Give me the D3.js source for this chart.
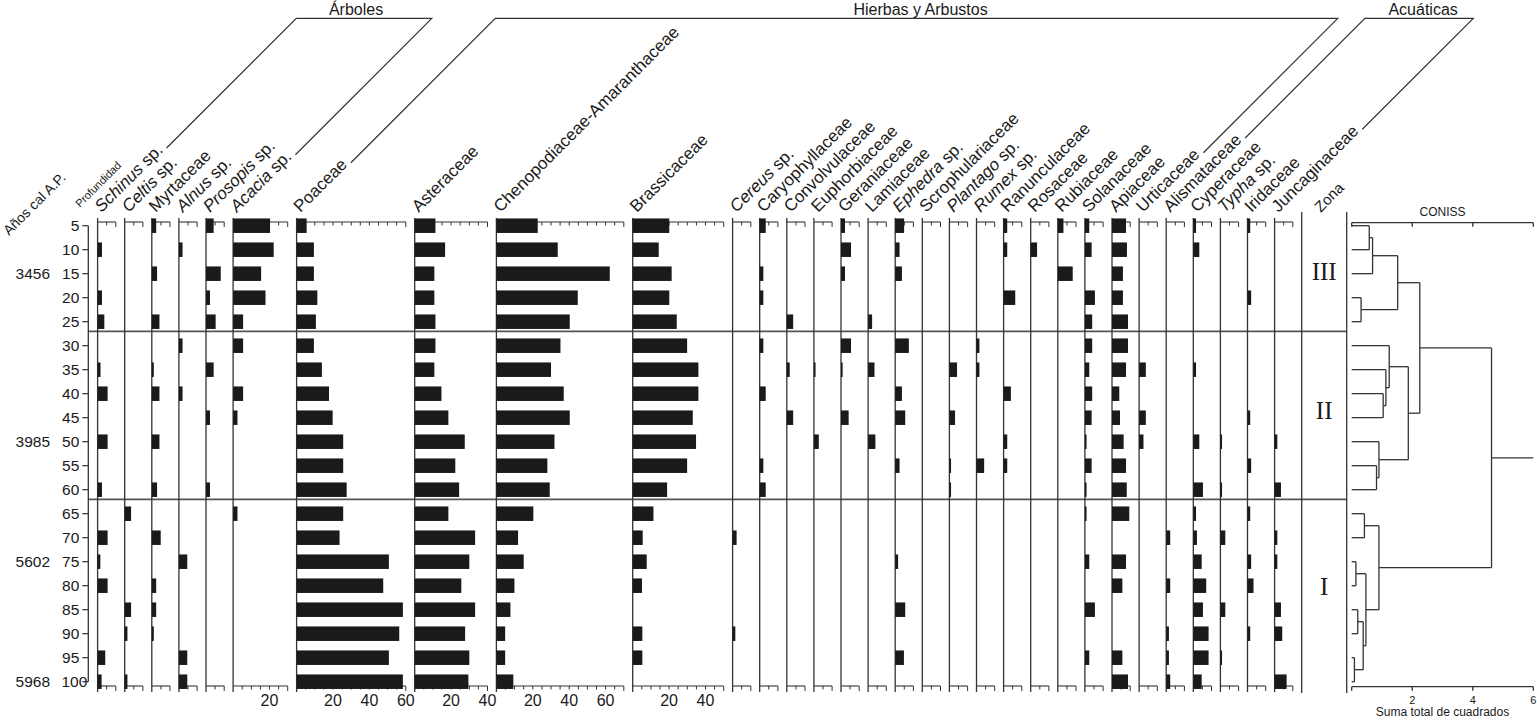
<!DOCTYPE html>
<html><head><meta charset="utf-8">
<script src="https://cdn.jsdelivr.net/npm/d3@7"></script>
<style>
body{margin:0;background:#fff}
svg{display:block}
text{font-family:"Liberation Sans",Arial,sans-serif;fill:#1a1a1a}
</style>
</head><body>
<svg id="c" width="1537" height="720"></svg>
<script>
// ---------- DATA ----------
const depths = [5,10,15,20,25,30,35,40,45,50,55,60,65,70,75,80,85,90,95,100];
const ageDepths = [15,50,75,100];
const ageLabels = ["3456","3985","5602","5968"];

const taxaNames = ["Schinus sp.","Celtis sp.","Myrtaceae","Alnus sp.","Prosopis sp.","Acacia sp.",
  "Poaceae","Asteraceae","Chenopodiaceae-Amaranthaceae","Brassicaceae",
  "Cereus sp.","Caryophyllaceae","Convolvulaceae","Euphorbiaceae","Geraniaceae","Lamiaceae",
  "Ephedra sp.","Scrophulariaceae","Plantago sp.","Rumex sp.","Ranunculaceae","Rosaceae",
  "Rubiaceae","Solanaceae","Apiaceae","Urticaceae",
  "Alismataceae","Cyperaceae","Typha sp.","Iridaceae","Juncaginaceae"];
const axisMax = [10,10,10,10,10,30,60,40,70,50,10,10,10,10,10,10,10,10,10,10,10,10,10,10,10,10,10,10,10,10,10];

const groupLabels = ["Árboles","Hierbas y Arbustos","Acuáticas"];
const groupFirst = [0,6,26];
const groupLast  = [5,25,30];

const schinus    = [0,2.4,0,2.4,3.7, 0,1.6,5.5,0,5.5, 0,2.4,0,5.5,1.5, 5.5,0,0,4.2,2.2];
const celtis     = [0,0,0,0,0, 0,0,0,0,0, 0,0,3.5,0,0, 0,3.5,1.5,0,1.5];
const myrtaceae  = [2.4,0,2.9,0,4.2, 0,1.1,4.2,0,4.2, 0,2.9,0,4.9,0, 2.4,2.4,1.1,0,0];
const alnus      = [0,2,0,0,0, 2,0,2,0,0, 0,0,0,0,4.6, 0,0,0,4.6,4.6];
const prosopis   = [4.2,0,8.1,2.2,5.3, 0,4.2,0,2.2,0, 0,2.2,0,0,0, 0,0,0,0,0];
const acacia     = [20.3,22.3,15.4,17.8,5.5, 5.5,0,5.5,2.4,0, 0,0,2.4,0,0, 0,0,0,0,0];
const poaceae    = [5.5,9.5,9.5,11.4,10.6, 9.5,13.9,17.8,19.8,25.6, 25.6,27.5,25.6,23.6,50.7, 47.6,58.4,56.4,50.7,58.4];
const asteraceae = [11.4,16.7,10.8,10.8,11.4, 11.4,10.8,14.7,18.5,27.5, 22.3,24.4,18.5,33.2,30, 25.6,33.2,27.7,30,29.5];
const chenoAmar  = [22.7,33.7,62.3,44.7,40.3, 35.2,30,37,40.3,31.9, 28,29.3,20.3,11.9,15, 9.9,7.7,4.8,4.8,9.3];
const brassica   = [20.1,14.3,21.4,20.1,24.2, 29.9,36.1,36.1,33,34.8, 29.9,18.9,11.4,5.5,7.7, 5.1,0,5.3,5.3,0];
const cereus     = [0,0,0,0,0, 0,0,0,0,0, 0,0,0,2.2,0, 0,0,1.5,0,0];
const caryophyl  = [3.3,0,2,2,0, 2,0,3.3,0,0, 2,3.3,0,0,0, 0,0,0,0,0];
const convolvul  = [0,0,0,0,3.5, 0,1.6,0,3.5,0, 0,0,0,0,0, 0,0,0,0,0];
const euphorbia  = [0,0,0,0,0, 0,0.9,0,0,2.7, 0,0,0,0,0, 0,0,0,0,0];
const geranium   = [2.2,5.5,2.2,0,0, 5.5,0.9,0,4.2,0, 0,0,0,0,0, 0,0,0,0,0];
const lamiaceae  = [0,0,0,0,2.2, 0,3.5,0,0,4, 0,0,0,0,0, 0,0,0,0,0];
const ephedra    = [4.9,2.4,3.7,0,0, 7.5,0,3.7,5.5,0, 2.4,0,0,0,1.6, 0,5.5,0,4.8,0];
const scrophul   = [0,0,0,0,0, 0,0,0,0,0, 0,0,0,0,0, 0,0,0,0,0];
const plantago   = [0,0,0,0,0, 0,4.2,0,3.1,0, 0.9,0.9,0,0,0, 0,0,0,0,0];
const rumex      = [0,0,0,0,0, 1.6,1.6,0,0,0, 4.2,0,0,0,0, 0,0,0,0,0];
const ranuncul   = [2,2,0,6.4,0, 0,0,4,0,2, 2,0,0,0,0, 0,0,0,0,0];
const rosaceae   = [0,3.5,0,0,0, 0,0,0,0,0, 0,0,0,0,0, 0,0,0,0,0];
const rubiaceae  = [3.1,0,8.2,0,0, 0,0,0,0,0, 0,0,0,0,0, 0,0,0,0,0];
const solanaceae = [2.4,3.7,0,5.5,4, 4,2.4,4,3.7,0.9, 3.7,0.9,0.9,0,2.4, 0,5.5,0,2.4,0];
const apiaceae   = [7.7,8.2,6,6,8.8, 8.8,7.7,4,4.4,6.4, 7.7,8.1,9.5,0,7.7, 5.7,0,0,5.7,8.8];
const urticaceae = [0,0,0,0,0, 0,3.7,0,3.7,2.4, 0,0,0,0,0, 0,0,0,0,0];
const alismatac  = [0,0,0,0,0, 0,0,0,0,0, 0,0,0,2.2,0, 2.2,0,1.5,1.5,2.2];
const cyperaceae = [1.5,3.3,0,0,0, 0,1.5,0,0,3.3, 0,5.3,1.5,2,4.6, 7.1,5.3,8.4,8.4,4.6];
const typha      = [0,0,0,0,0, 0,0,0,0,0.9, 0,0.9,0,2.7,0, 0,2.7,0,0.9,0];
const iridaceae  = [1.5,0,0,2,0, 0,0,0,1.5,0, 2,0,1.5,0,2, 3.3,0,1.5,0,0];
const juncagin   = [0,0,0,0,0, 0,0,0,0,1.5, 0,3.5,0,1.5,1.5, 0,3.5,4.2,0,6.6];

const taxaValues = [schinus,celtis,myrtaceae,alnus,prosopis,acacia,poaceae,asteraceae,chenoAmar,brassica,
  cereus,caryophyl,convolvul,euphorbia,geranium,lamiaceae,ephedra,scrophul,plantago,rumex,ranuncul,rosaceae,
  rubiaceae,solanaceae,apiaceae,urticaceae,alismatac,cyperaceae,typha,iridaceae,juncagin];

const zoneNames = ["III","II","I"];
const zoneLabelDepth = [14.5,43.4,80.2];
const zoneBoundaries = [27,62];

// CONISS merges: [childA, childB, height]; indices <20 are samples, >=20 earlier merges
const conissMerges = [
  [0,1,0.58],[20,2,0.69],[3,4,0.31],[21,22,1.52],
  [7,8,1.04],[6,24,1.13],[5,25,1.24],[10,11,0.82],[9,27,0.90],[26,28,1.87],[23,29,2.25],
  [12,13,0.42],[14,15,0.14],[16,17,0.20],[18,19,0.09],[33,34,0.38],[32,35,0.47],[31,36,0.90],
  [30,37,4.62]
];
const conissTicks = [0,2,4,6];

// ---------- DRAW ----------
const svg = d3.select('#c');
const ink = '#1a1a1a', lineC = '#333';
const y = d3.scaleLinear().domain([5,100]).range([225.7,681.7]);
const barH = 14.5;
const axTop = 222, axBot = 686, colTop = 218, colBot = 692;
const pxPerPct = 1.82, gap = 8.9;
let cursor = 97.6;
const xs = axisMax.map(m => {
  const s = d3.scaleLinear().domain([0,m]).range([cursor, cursor + m*pxPerPct]);
  cursor += m*pxPerPct + gap;
  return s;
});
const zoneLineX = cursor;
const dendroAxisX = zoneLineX + 45;
const depthAxisX = 88.3;

// zone boundary lines
const gZ = svg.append('g');
zoneBoundaries.forEach(b => {
  gZ.append('line').attr('x1',depthAxisX).attr('x2',dendroAxisX)
    .attr('y1',y(b)).attr('y2',y(b)).attr('stroke','#555').attr('stroke-width',1.7);
});

// columns
const gCols = svg.append('g');
xs.forEach((s,i) => {
  const g = gCols.append('g');
  const m = axisMax[i];
  g.append('line').attr('x1',s(0)).attr('x2',s(0)).attr('y1',colTop).attr('y2',colBot)
    .attr('stroke',lineC).attr('stroke-width',1.3);
  const ticks = d3.range(5, m+0.01, 5);
  [axTop, axBot].forEach(ay => {
    g.append('line').attr('x1',s(0)).attr('x2',s(m)).attr('y1',ay).attr('y2',ay)
      .attr('stroke',lineC).attr('stroke-width',1.1);
    g.selectAll(null).data(ticks).enter().append('line')
      .attr('x1',d=>s(d)).attr('x2',d=>s(d)).attr('y1',ay).attr('y2',d=> ay + (d===m?5:3.5))
      .attr('stroke',lineC).attr('stroke-width',1);
  });
  if (m >= 30) {
    g.selectAll(null).data(ticks.filter(t=>t%20===0)).enter().append('text')
      .attr('x',d=>s(d)).attr('y',706).attr('text-anchor','middle')
      .attr('font-size',16).text(d=>d);
  }
  g.selectAll('rect').data(taxaValues[i].map((v,k)=>({v,d:depths[k]})).filter(o=>o.v>0))
    .enter().append('rect')
    .attr('x',s(0)).attr('y',o=>y(o.d)-barH/2)
    .attr('width',o=>s(o.v)-s(0)).attr('height',barH).attr('fill',ink);
});

// taxon labels
const labelEnds = [];
taxaNames.forEach((name,i) => {
  const ox = xs[i](0)+4, oy = 213;
  const t = svg.append('text').attr('transform',`translate(${ox},${oy}) rotate(-45)`)
    .attr('font-size',17);
  if (name.endsWith(' sp.')) {
    t.append('tspan').attr('font-style','italic').text(name.slice(0,-4));
    t.append('tspan').text(' sp.');
  } else t.text(name);
  const L = t.node().getComputedTextLength();
  labelEnds.push([ox + L/Math.SQRT2, oy - L/Math.SQRT2]);
});

// group brackets
const topY = 18.3;
groupLabels.forEach((lab,gi) => {
  const a = labelEnds[groupFirst[gi]], b = labelEnds[groupLast[gi]];
  const pad = 4/Math.SQRT2;
  const a0 = [a[0]+pad, a[1]-pad], b0 = [b[0]+pad, b[1]-pad];
  const aT = a0[0] + (a0[1]-topY), bT = b0[0] + (b0[1]-topY);
  svg.append('path').attr('d',`M${a0[0]},${a0[1]}L${aT},${topY}L${bT},${topY}L${b0[0]},${b0[1]}`)
    .attr('fill','none').attr('stroke',lineC).attr('stroke-width',1.2);
  svg.append('text').attr('x',(aT+bT)/2 + (gi===0?-8:4)).attr('y',topY-3).attr('text-anchor','middle')
    .attr('font-size',16).text(lab);
});

// depth axis
const gD = svg.append('g');
gD.append('line').attr('x1',depthAxisX).attr('x2',depthAxisX).attr('y1',y(5)).attr('y2',y(100))
  .attr('stroke',lineC).attr('stroke-width',1.3);
gD.selectAll('line.t').data(depths).enter().append('line').attr('class','t')
  .attr('x1',depthAxisX-6).attr('x2',depthAxisX).attr('y1',d=>y(d)).attr('y2',d=>y(d))
  .attr('stroke',lineC).attr('stroke-width',1.2);
gD.selectAll('text').data(depths).enter().append('text')
  .attr('x',d=> d===100 ? depthAxisX-1 : depthAxisX-9).attr('y',d=>y(d)).attr('dy','0.36em')
  .attr('text-anchor','end').attr('font-size',15.5).text(d=>d);
svg.selectAll('text.age').data(ageDepths).enter().append('text').attr('class','age')
  .attr('x',50).attr('y',d=>y(d)).attr('dy','0.36em').attr('text-anchor','end')
  .attr('font-size',15.5).text((d,i)=>ageLabels[i]);
svg.append('text').attr('transform','translate(9,236) rotate(-45)').attr('font-size',14).text('Años cal A.P.');
svg.append('text').attr('transform','translate(80,208) rotate(-45)').attr('font-size',11).text('Profundidad');

// zone column
svg.append('line').attr('x1',zoneLineX).attr('x2',zoneLineX).attr('y1',212).attr('y2',693)
  .attr('stroke',lineC).attr('stroke-width',1.3);
svg.append('text').attr('transform',`translate(${zoneLineX+19},213) rotate(-45)`).attr('font-size',15).text('Zona');
svg.selectAll('text.zone').data(zoneNames).enter().append('text').attr('class','zone')
  .attr('x',(zoneLineX+dendroAxisX)/2).attr('y',(d,i)=>y(zoneLabelDepth[i])).attr('dy','0.35em')
  .attr('text-anchor','middle').attr('font-size',25)
  .style('font-family','"Liberation Serif","Times New Roman",serif').text(d=>d);

// CONISS dendrogram
const dx = d3.scaleLinear().domain([0,6]).range([dendroAxisX+5, dendroAxisX+5+181.6]);
const gC = svg.append('g').attr('stroke',lineC).attr('stroke-width',1.3).attr('fill','none');
svg.append('line').attr('x1',dendroAxisX).attr('x2',dendroAxisX).attr('y1',212).attr('y2',693)
  .attr('stroke',lineC).attr('stroke-width',1.3);
[222.7, 686.7].forEach((ay,k) => {
  gC.append('line').attr('x1',dx(0)).attr('x2',dx(6)).attr('y1',ay).attr('y2',ay);
  conissTicks.forEach(t => gC.append('line').attr('x1',dx(t)).attr('x2',dx(t)).attr('y1',ay).attr('y2',ay+4));
});
svg.selectAll('text.ct').data(conissTicks.filter(t=>t>0)).enter().append('text').attr('class','ct')
  .attr('x',d=>dx(d)).attr('y',704).attr('text-anchor','middle').attr('font-size',11).text(d=>d);
svg.append('text').attr('x',(dx(0)+dx(6))/2).attr('y',216).attr('text-anchor','middle').attr('font-size',12).text('CONISS');
svg.append('text').attr('x',(dx(0)+dx(6))/2).attr('y',716).attr('text-anchor','middle').attr('font-size',12).text('Suma total de cuadrados');

const nodeY = depths.map(d=>y(d));
const nodeH = depths.map(()=>0);
conissMerges.forEach(([a,b,h]) => {
  gC.append('line').attr('x1',dx(h)).attr('x2',dx(h)).attr('y1',nodeY[a]).attr('y2',nodeY[b]);
  [a,b].forEach(c => gC.append('line').attr('x1',dx(nodeH[c])).attr('x2',dx(h)).attr('y1',nodeY[c]).attr('y2',nodeY[c]));
  nodeY.push((nodeY[a]+nodeY[b])/2); nodeH.push(h);
});
const last = nodeY.length-1;
gC.append('line').attr('x1',dx(nodeH[last])).attr('x2',dx(6)).attr('y1',nodeY[last]).attr('y2',nodeY[last]);
</script>
</body></html>
